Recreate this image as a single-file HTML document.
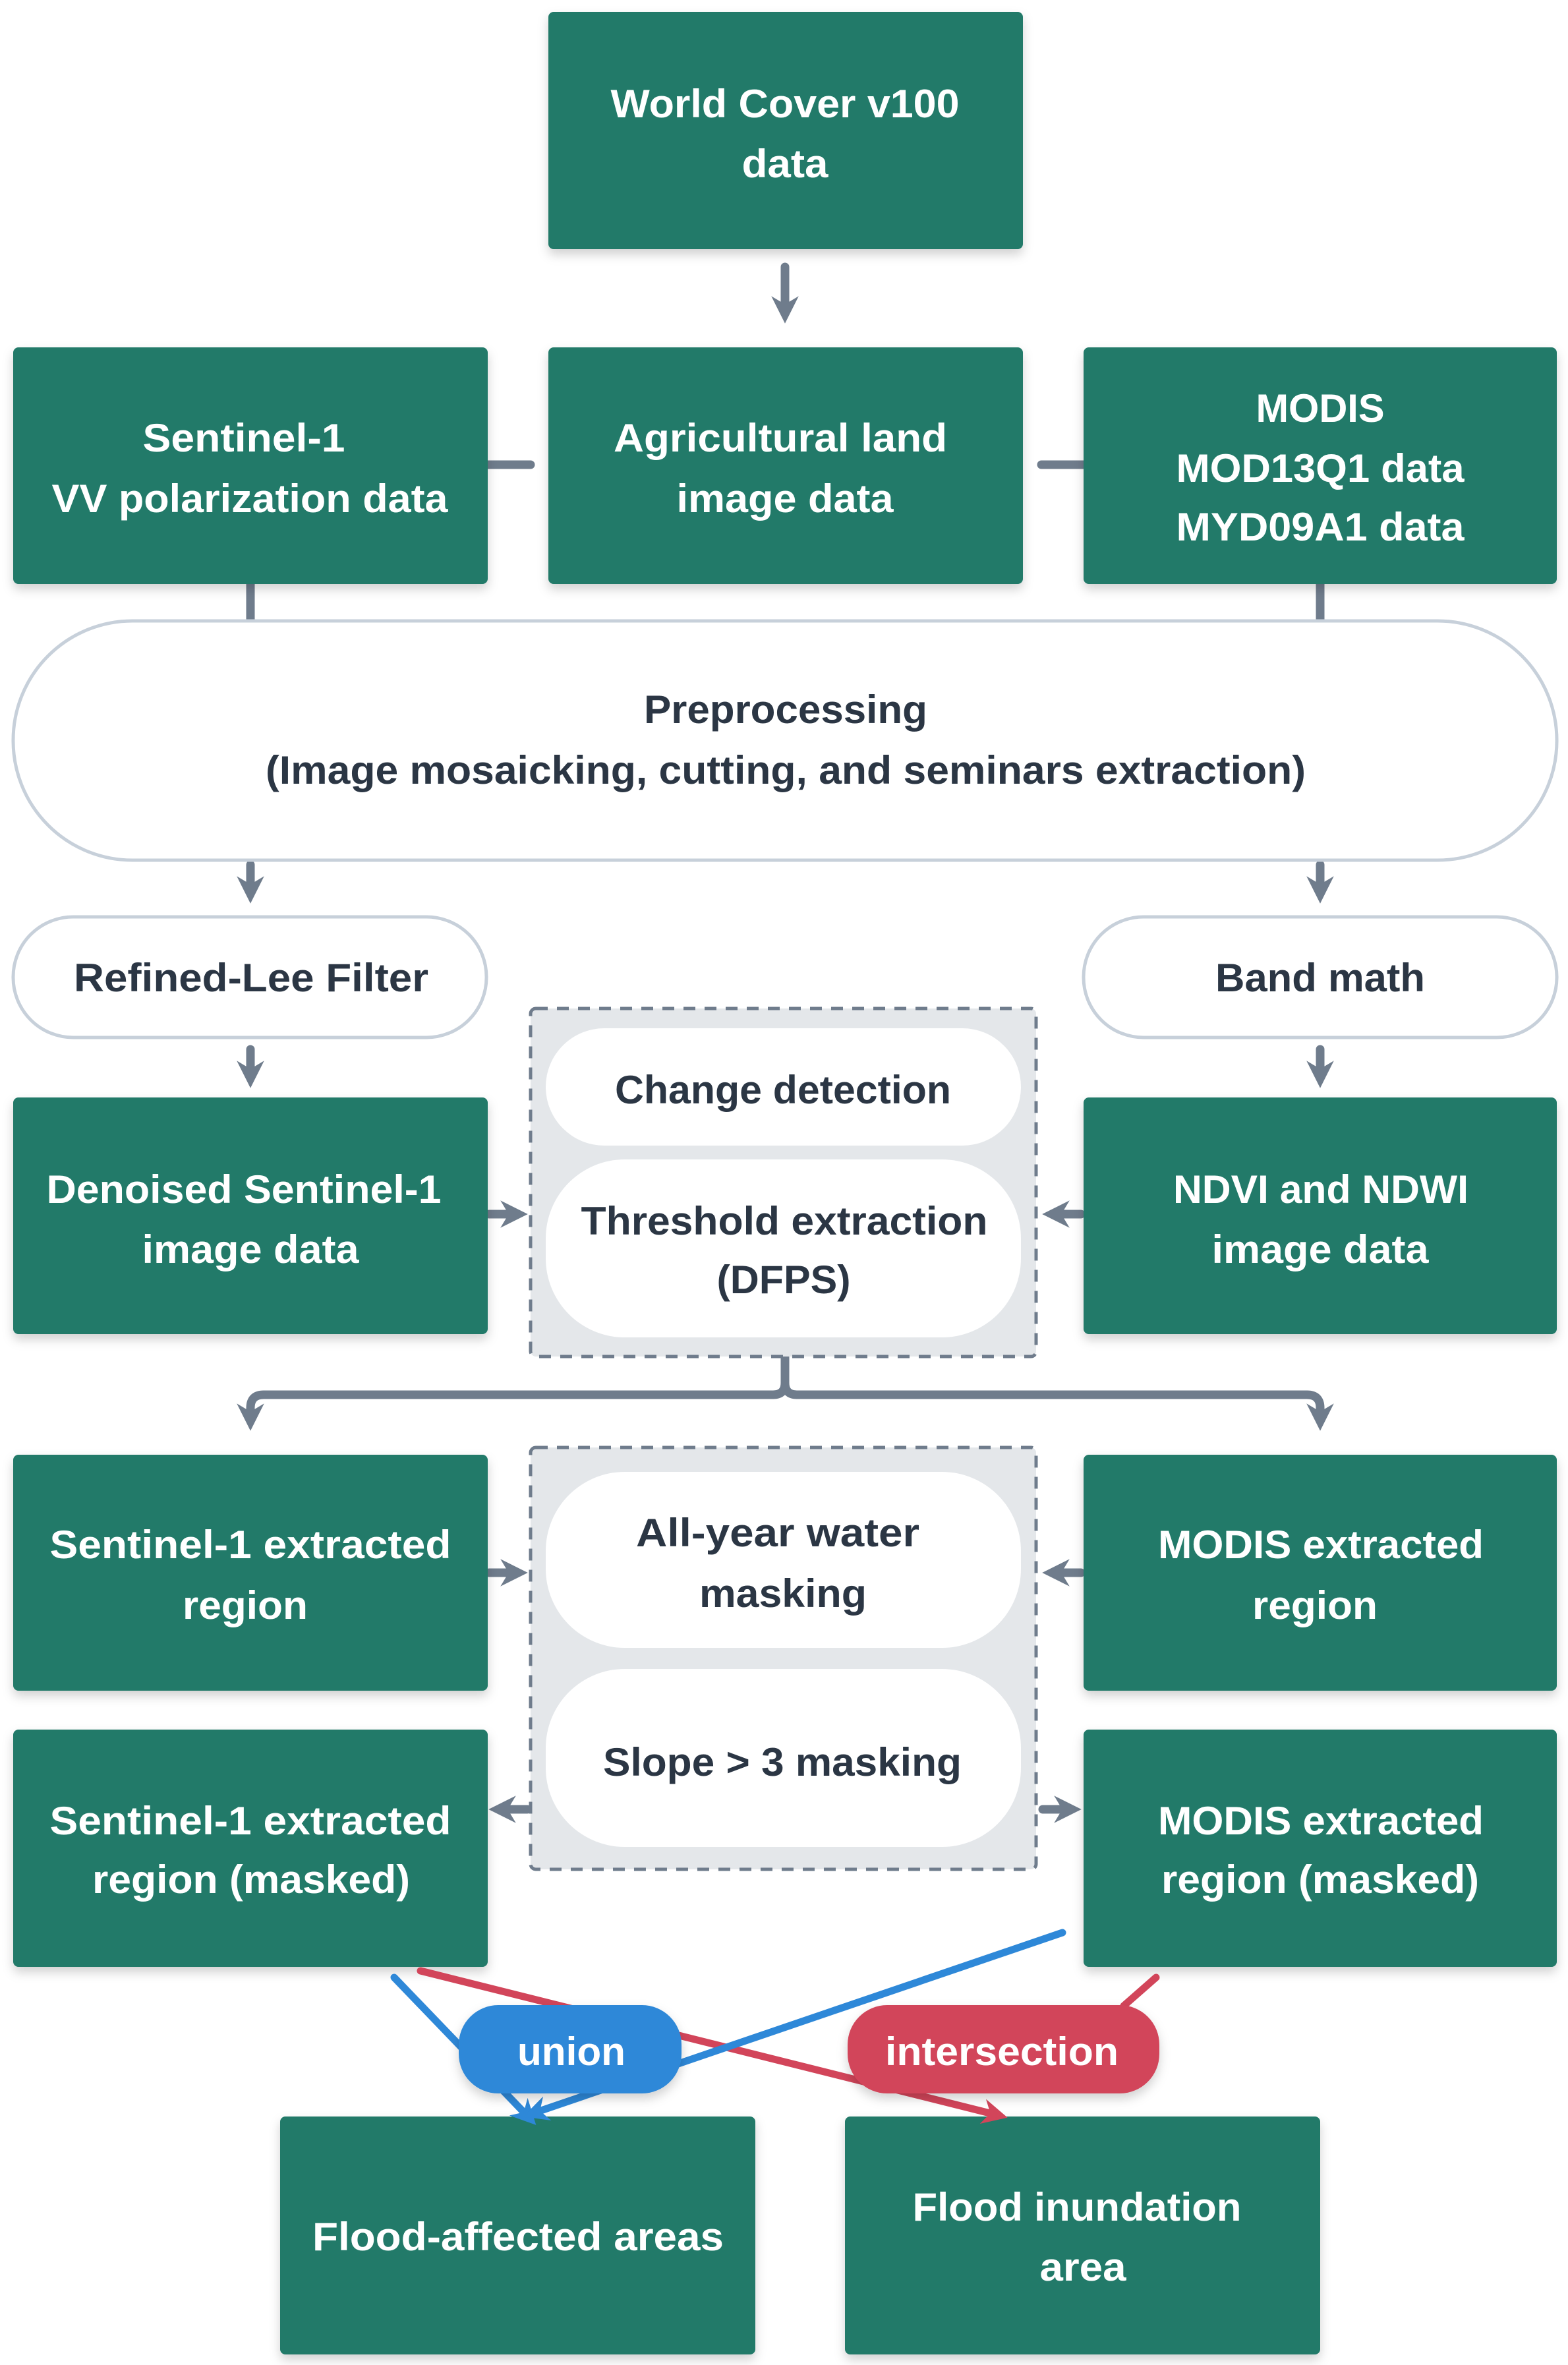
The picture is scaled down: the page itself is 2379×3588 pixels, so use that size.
<!DOCTYPE html>
<html><head><meta charset="utf-8"><style>
html,body{margin:0;padding:0;background:#fff;}
svg{display:block;}
text{font-family:"Liberation Sans",sans-serif;font-weight:bold;font-size:60px;text-anchor:middle;}
.w{fill:#fff;}
.d{fill:#2b3644;}
</style></head><body>
<svg width="2379" height="3588" viewBox="0 0 2379 3588" xmlns="http://www.w3.org/2000/svg">
<defs>
<filter id="sh" x="-10%" y="-10%" width="120%" height="130%"><feDropShadow dx="0" dy="8" stdDeviation="8" flood-color="#000" flood-opacity="0.18"/></filter>
<marker id="ag" viewBox="0 0 10 10" refX="5" refY="5" markerWidth="3.2" markerHeight="3.2" orient="auto"><path d="M0,0 L10,5 L0,10 L3,5 z" fill="#6f7c8c"/></marker>
<marker id="ab" viewBox="0 0 10 10" refX="5" refY="5" markerWidth="3.5" markerHeight="3.5" orient="auto"><path d="M0,0 L10,5 L0,10 L3,5 z" fill="#2e88d8"/></marker>
<marker id="ar" viewBox="0 0 10 10" refX="5" refY="5" markerWidth="3.5" markerHeight="3.5" orient="auto"><path d="M0,0 L10,5 L0,10 L3,5 z" fill="#d2455a"/></marker>
</defs>

<!-- gray connectors -->
<g stroke="#6f7c8c" stroke-width="13" fill="none" stroke-linecap="round">
<line x1="1191" y1="405" x2="1191" y2="470" marker-end="url(#ag)"/>
<line x1="740" y1="705" x2="805" y2="705"/>
<line x1="1580" y1="705" x2="1644" y2="705"/>
<line x1="380" y1="885" x2="380" y2="942"/>
<line x1="2003" y1="885" x2="2003" y2="942"/>
<line x1="380" y1="1312" x2="380" y2="1350" marker-end="url(#ag)"/>
<line x1="2003" y1="1312" x2="2003" y2="1350" marker-end="url(#ag)"/>
<line x1="380" y1="1592" x2="380" y2="1630" marker-end="url(#ag)"/>
<line x1="2003" y1="1592" x2="2003" y2="1630" marker-end="url(#ag)"/>
<line x1="742" y1="1842" x2="780" y2="1842" marker-end="url(#ag)"/>
<line x1="1640" y1="1842" x2="1602" y2="1842" marker-end="url(#ag)"/>
<path d="M1191,2058 L1191,2098 Q1191,2116 1173,2116 L400,2116 Q380,2116 380,2136 L380,2150" marker-end="url(#ag)"/>
<path d="M1191,2098 Q1191,2116 1209,2116 L1983,2116 Q2003,2116 2003,2136 L2003,2150" marker-end="url(#ag)"/>
<line x1="742" y1="2386" x2="780" y2="2386" marker-end="url(#ag)"/>
<line x1="1640" y1="2386" x2="1602" y2="2386" marker-end="url(#ag)"/>
<line x1="800" y1="2745" x2="762" y2="2745" marker-end="url(#ag)"/>
<line x1="1582" y1="2745" x2="1620" y2="2745" marker-end="url(#ag)"/>
</g>

<!-- green boxes -->
<g fill="#217a69" filter="url(#sh)">
<rect x="832" y="18" width="720" height="360" rx="8"/>
<rect x="20" y="527" width="720" height="359" rx="8"/>
<rect x="832" y="527" width="720" height="359" rx="8"/>
<rect x="1644" y="527" width="718" height="359" rx="8"/>
<rect x="20" y="1665" width="720" height="359" rx="8"/>
<rect x="1644" y="1665" width="718" height="359" rx="8"/>
<rect x="20" y="2207" width="720" height="358" rx="8"/>
<rect x="1644" y="2207" width="718" height="358" rx="8"/>
<rect x="20" y="2624" width="720" height="360" rx="8"/>
<rect x="1644" y="2624" width="718" height="360" rx="8"/>
<rect x="425" y="3211" width="721" height="361" rx="8"/>
<rect x="1282" y="3211" width="721" height="361" rx="8"/>
</g>

<!-- preprocessing and pills -->
<rect x="20" y="942" width="2342" height="363" rx="181" fill="#fff" stroke="#c7d0da" stroke-width="5"/>
<rect x="20" y="1391" width="718" height="183" rx="91" fill="#fff" stroke="#c7d0da" stroke-width="5"/>
<rect x="1644" y="1391" width="718" height="183" rx="91" fill="#fff" stroke="#c7d0da" stroke-width="5"/>

<!-- dashed containers -->
<rect x="805" y="1530" width="767" height="528" rx="8" fill="#e4e7ea" stroke="#6f7c8c" stroke-width="5" stroke-dasharray="18 14"/>
<rect x="805" y="2196" width="767" height="640" rx="8" fill="#e4e7ea" stroke="#6f7c8c" stroke-width="5" stroke-dasharray="18 14"/>
<rect x="828" y="1560" width="721" height="178" rx="89" fill="#fff"/>
<rect x="828" y="1759" width="721" height="270" rx="120" fill="#fff"/>
<rect x="828" y="2233" width="721" height="267" rx="120" fill="#fff"/>
<rect x="828" y="2532" width="721" height="270" rx="120" fill="#fff"/>

<!-- colored connectors -->
<g fill="none" stroke-width="11" stroke-linecap="round">
<line x1="638" y1="2990" x2="1510" y2="3208" stroke="#d2455a" marker-end="url(#ar)"/>
<line x1="1754" y1="3000" x2="1705" y2="3043" stroke="#d2455a"/>
<line x1="598" y1="3000" x2="800" y2="3210" stroke="#2e88d8" marker-end="url(#ab)"/>
<line x1="1612" y1="2932" x2="812" y2="3205" stroke="#2e88d8" marker-end="url(#ab)"/>
</g>
<rect x="696" y="3042" width="338" height="134" rx="60" fill="#2e88d8" filter="url(#sh)"/>
<rect x="1286" y="3042" width="473" height="134" rx="60" fill="#d2455a" filter="url(#sh)"/>

<!-- text -->
<g class="w">
<text x="1191" y="178" textLength="529" lengthAdjust="spacingAndGlyphs">World Cover v100</text>
<text x="1191" y="269" textLength="131" lengthAdjust="spacingAndGlyphs">data</text>
<text x="370" y="685" textLength="307" lengthAdjust="spacingAndGlyphs">Sentinel-1</text>
<text x="379" y="777" textLength="601" lengthAdjust="spacingAndGlyphs">VV polarization data</text>
<text x="1184" y="685" textLength="506" lengthAdjust="spacingAndGlyphs">Agricultural land</text>
<text x="1191" y="777" textLength="329" lengthAdjust="spacingAndGlyphs">image data</text>
<text x="2003" y="640" textLength="195" lengthAdjust="spacingAndGlyphs">MODIS</text>
<text x="2003" y="731" textLength="437" lengthAdjust="spacingAndGlyphs">MOD13Q1 data</text>
<text x="2003" y="820" textLength="437" lengthAdjust="spacingAndGlyphs">MYD09A1 data</text>
<text x="370" y="1825" textLength="599" lengthAdjust="spacingAndGlyphs">Denoised Sentinel-1</text>
<text x="380" y="1916" textLength="329" lengthAdjust="spacingAndGlyphs">image data</text>
<text x="2004" y="1825" textLength="448" lengthAdjust="spacingAndGlyphs">NDVI and NDWI</text>
<text x="2003" y="1916" textLength="329" lengthAdjust="spacingAndGlyphs">image data</text>
<text x="380" y="2364" textLength="609" lengthAdjust="spacingAndGlyphs">Sentinel-1 extracted</text>
<text x="372" y="2456" textLength="190" lengthAdjust="spacingAndGlyphs">region</text>
<text x="2004" y="2364" textLength="494" lengthAdjust="spacingAndGlyphs">MODIS extracted</text>
<text x="1995" y="2456" textLength="190" lengthAdjust="spacingAndGlyphs">region</text>
<text x="380" y="2783" textLength="609" lengthAdjust="spacingAndGlyphs">Sentinel-1 extracted</text>
<text x="381" y="2872" textLength="482" lengthAdjust="spacingAndGlyphs">region (masked)</text>
<text x="2004" y="2783" textLength="494" lengthAdjust="spacingAndGlyphs">MODIS extracted</text>
<text x="2003" y="2872" textLength="482" lengthAdjust="spacingAndGlyphs">region (masked)</text>
<text x="867" y="3133" textLength="164" lengthAdjust="spacingAndGlyphs">union</text>
<text x="1520" y="3133" textLength="354" lengthAdjust="spacingAndGlyphs">intersection</text>
<text x="786" y="3414" textLength="624" lengthAdjust="spacingAndGlyphs">Flood-affected areas</text>
<text x="1634" y="3369" textLength="499" lengthAdjust="spacingAndGlyphs">Flood inundation</text>
<text x="1643" y="3460" textLength="131" lengthAdjust="spacingAndGlyphs">area</text>
</g>
<g class="d">
<text x="1192" y="1097" textLength="430" lengthAdjust="spacingAndGlyphs">Preprocessing</text>
<text x="1192" y="1189" textLength="1578" lengthAdjust="spacingAndGlyphs">(Image mosaicking, cutting, and seminars extraction)</text>
<text x="381" y="1504" textLength="538" lengthAdjust="spacingAndGlyphs">Refined-Lee Filter</text>
<text x="2003" y="1504" textLength="318" lengthAdjust="spacingAndGlyphs">Band math</text>
<text x="1188" y="1674" textLength="510" lengthAdjust="spacingAndGlyphs">Change detection</text>
<text x="1190" y="1873" textLength="617" lengthAdjust="spacingAndGlyphs">Threshold extraction</text>
<text x="1189" y="1962" textLength="203" lengthAdjust="spacingAndGlyphs">(DFPS)</text>
<text x="1180" y="2346" textLength="430" lengthAdjust="spacingAndGlyphs">All-year water</text>
<text x="1188" y="2438" textLength="254" lengthAdjust="spacingAndGlyphs">masking</text>
<text x="1187" y="2694" textLength="544" lengthAdjust="spacingAndGlyphs">Slope &gt; 3 masking</text>
</g>
</svg>
</body></html>
